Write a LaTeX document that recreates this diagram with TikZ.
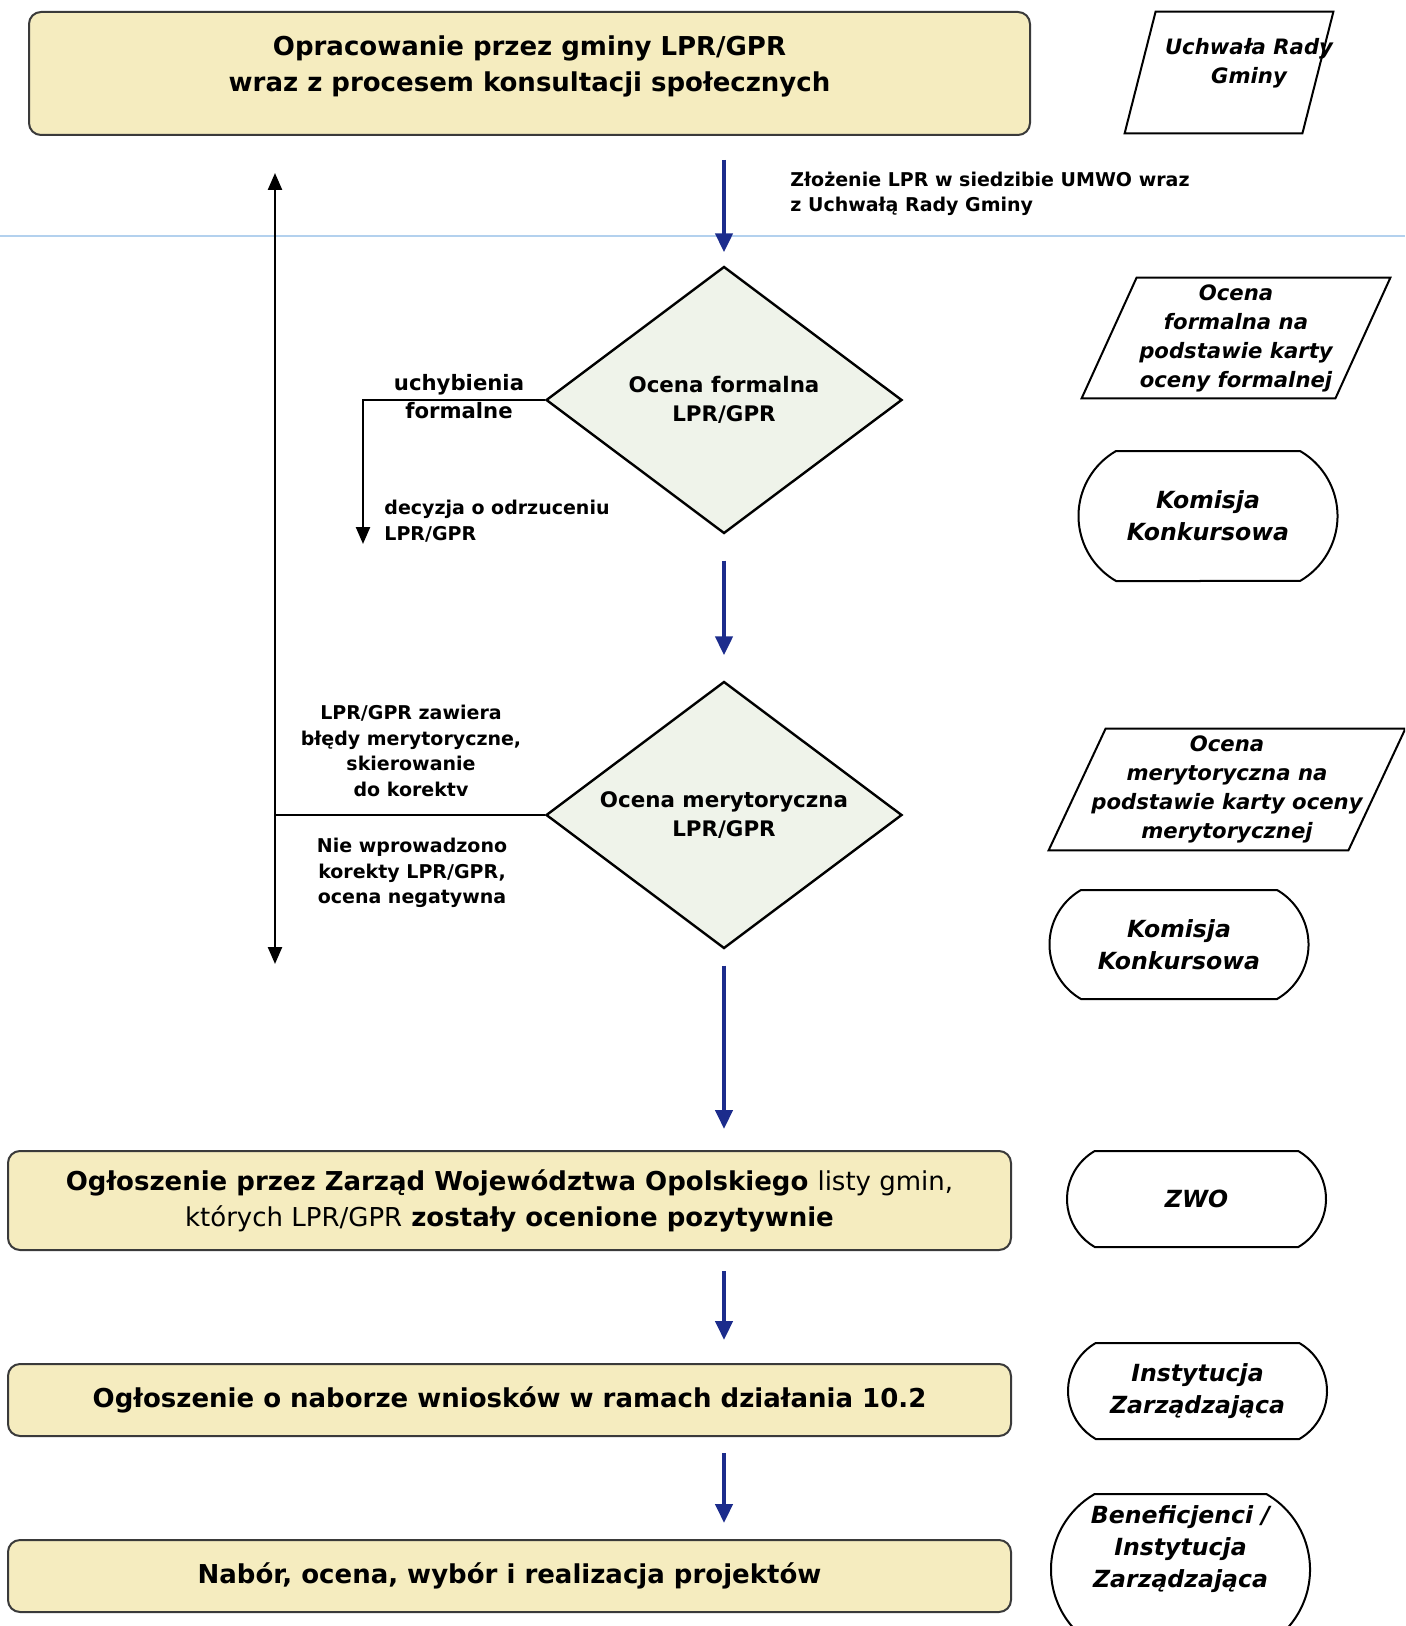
\documentclass[tikz,border=0pt]{standalone}
\usepackage{fontspec}
\setmainfont{DejaVu Sans}
\usetikzlibrary{shapes.geometric,shapes.misc,arrows.meta}

\definecolor{stageyellow}{HTML}{F5ECBF}
\definecolor{checkgreen}{HTML}{EFF3EA}
\definecolor{flowblue}{HTML}{1C2C8C}
\definecolor{foldblue}{HTML}{B3D1EE}
\definecolor{edgegray}{HTML}{3A3A3A}

% slanted frame round a doc node: #1 node, #2 half of the slant
\newcommand\docframe[2]{%
  \draw[line width=1pt] ([xshift=#2]#1.north west) -- ([xshift=#2]#1.north east)
     -- ([xshift=-#2]#1.south east) -- ([xshift=-#2]#1.south west) -- cycle;}

\begin{document}
\begin{tikzpicture}[x=0.5pt, y=-0.5pt,
    stage/.style={draw=edgegray, line width=1pt, rounded corners=6pt, fill=stageyellow,
        minimum width=501.5pt, inner sep=0pt, align=center, font=\bfseries\fontsize{13}{18}\selectfont},
    check/.style={diamond, aspect=1.333, draw, line width=1.2pt, fill=checkgreen, minimum width=178pt,
        minimum height=133.5pt, inner sep=0pt, align=center, font=\bfseries\fontsize{10.7}{14.5}\selectfont},
    role/.style={rounded rectangle, rounded rectangle arc length=120, draw, line width=1pt,
        minimum width=135.5pt, inner sep=3pt, align=center, font=\bfseries\itshape\fontsize{11.8}{16}\selectfont},
    doc/.style={rectangle, inner sep=0pt, align=center, font=\bfseries\itshape\fontsize{10.6}{14.5}\selectfont},
    note/.style={align=center, inner sep=0pt, font=\bfseries\fontsize{9.5}{12.8}\selectfont},
    flow/.style={draw=flowblue, line width=2.2pt, -{Triangle[width=8.5pt,length=9.5pt]}},
    back/.style={draw, line width=1.2pt, >={Triangle[width=7pt,length=8.5pt]}},
]
    \useasboundingbox (0,0) rectangle (1405,1626);
    \clip (0,0) rectangle (1405,1626);
    \draw[foldblue, line width=1pt] (0,236) -- (1405,236);
    %
    % main column
    \node[stage, minimum width=500.5pt, minimum height=61.5pt, text depth=9.5pt] (draft) at (529.5,73.5)
        {Opracowanie przez gminy LPR/GPR\\wraz z procesem konsultacji społecznych};
    \node[check] (formal) at (724,400) {Ocena formalna\\LPR/GPR};
    \node[check] (merit)  at (724,815) {Ocena merytoryczna\\LPR/GPR};
    \node[stage, minimum height=49.5pt] (list) at (509.5,1200.5)
        {Ogłoszenie przez Zarząd Województwa Opolskiego \textmd{listy gmin,}\\
         \textmd{których LPR/GPR} zostały ocenione pozytywnie};
    \node[stage, minimum height=36pt] (call) at (509.5,1400)
        {Ogłoszenie o naborze wniosków w ramach działania 10.2};
    \node[stage, minimum height=36pt] (projects) at (509.5,1576)
        {Nabór, ocena, wybór i realizacja projektów};
    %
    % right column
    \node[doc, minimum width=88.5pt, minimum height=60.5pt, text depth=12pt] (resolution) at (1229,72.5)
        {\hspace*{10pt}Uchwała Rady\hspace*{-10pt}\\\hspace*{10pt}Gminy\hspace*{-10pt}};
    \docframe{resolution}{7.75pt}
    \node[doc, minimum width=126.5pt, minimum height=60pt] (formalcard) at (1236,338)
        {Ocena\\formalna na\\podstawie karty\\oceny formalnej};
    \docframe{formalcard}{13.75pt}
    \node[role, minimum height=65pt] (jury1) at (1208,516) {Komisja\\Konkursowa};
    \node[doc, minimum width=149.5pt, minimum height=60.5pt] (meritcard) at (1227,789.5)
        {Ocena\\merytoryczna na\\podstawie karty oceny\\merytorycznej};
    \docframe{meritcard}{14.25pt}
    \node[role, minimum height=54.5pt] (jury2) at (1179,944.5) {Komisja\\Konkursowa};
    \node[role, minimum height=48pt] (board) at (1196.5,1199) {ZWO};
    \node[role, minimum height=48pt] (managing) at (1197.5,1391) {Instytucja\\Zarządzająca};
    \node[role, anchor=north, inner ysep=6pt, text depth=22.6pt] (applicants)
        at (1180.5,1493) {Beneficjenci /\\Instytucja\\Zarządzająca};
    %
    % labels
    \node[note, anchor=west, align=left] (submit) at (790,194) {Złożenie LPR w siedzibie UMWO wraz\\z Uchwałą Rady Gminy};
    \node[note, font=\bfseries\fontsize{10.6}{14}\selectfont] (flaws) at (459,397) {uchybienia\\formalne};
    \node[note, anchor=west, align=left] (rejected) at (384,521) {decyzja o odrzuceniu\\LPR/GPR};
    \node[note] (fix) at (411,751) {LPR/GPR zawiera\\błędy merytoryczne,\\skierowanie\\do korektv};
    \node[note] (negative) at (412,873) {Nie wprowadzono\\korekty LPR/GPR,\\ocena negatywna};
    %
    \coordinate (backtop) at (275,173);
    \coordinate (backbot) at (275,964);
    \coordinate (reject) at (363,544);
    %
    \draw[flow, shorten <=12pt, shorten >=6.5pt] (draft.south -| formal.north) -- (formal.north);
    \draw[flow, shorten <=13pt, shorten >=12.5pt] (formal.south) -- (merit.north);
    \draw[flow, shorten <=8pt, shorten >=10.5pt] (merit.south) -- (merit.south |- list.north);
    \draw[flow, shorten <=10pt, shorten >=11.5pt] (list.south -| merit.south) -- (call.north -| merit.south);
    \draw[flow, shorten <=8pt, shorten >=8pt] (call.south -| merit.south) -- (projects.north -| merit.south);
    \draw[back, <->] (backtop) -- (backbot);
    \draw[back] (merit.west) -- (merit.west -| backtop);
    \draw[back, ->] (formal.west) -| (reject);
\end{tikzpicture}
\end{document}
